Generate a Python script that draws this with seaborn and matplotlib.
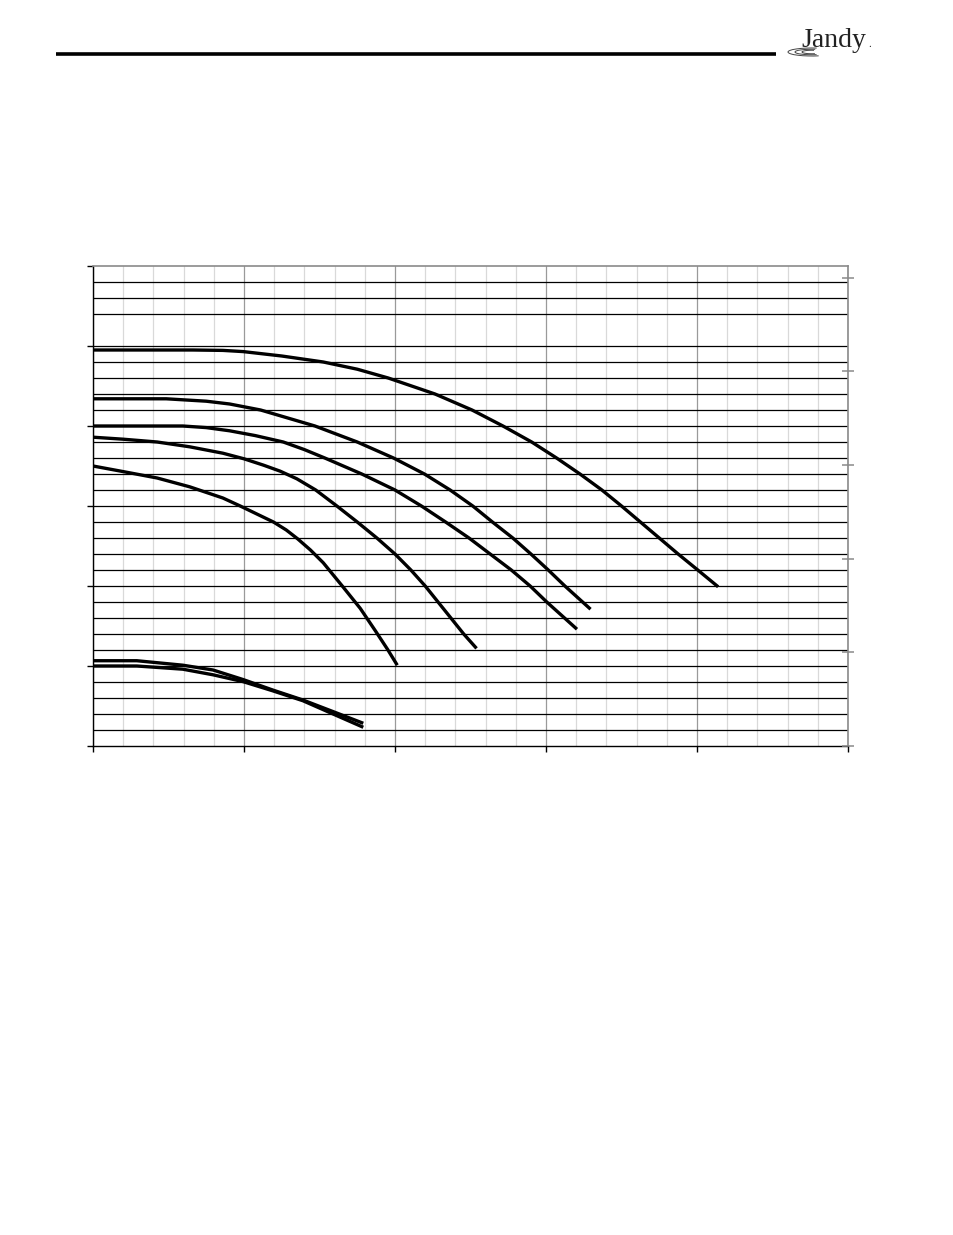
import numpy as np
import pandas as pd
import seaborn as sns
import matplotlib.pyplot as plt
from matplotlib.patches import Arc
from matplotlib.ticker import MultipleLocator, NullFormatter

# pump performance curves (flow, head)
c1_x = [0, 8.0, 13.2, 17.2, 19.9, 25.0, 30.5, 35.0, 39.1, 45.3, 50.2, 54.3, 58.1,
        61.4, 64.5, 67.4, 70.0, 72.5, 75.0, 77.5, 80.1, 82.8]
c1_y = [49.5, 49.5, 49.5, 49.45, 49.3, 48.75, 48.0, 47.1, 46.0, 44.0, 42.0, 40.0, 38.0,
        36.0, 34.0, 32.0, 30.0, 28.0, 26.0, 24.0, 22.0, 19.9]

c2_x = [0, 9.7, 15.0, 18.1, 22.2, 29.4, 35.0, 39.8, 43.9, 47.3, 50.3, 52.9, 55.6,
        58.0, 60.3, 62.5, 65.9]
c2_y = [43.4, 43.4, 43.1, 42.75, 42.0, 40.0, 38.0, 36.0, 34.0, 32.0, 30.0, 28.0, 26.0,
        24.0, 22.0, 20.0, 17.1]

c3_x = [0, 11.9, 15.0, 18.1, 21.5, 25.2, 28.0, 30.7, 35.6, 40.0, 43.5, 46.7, 49.8,
        52.6, 55.4, 57.9, 60.1, 64.1]
c3_y = [40.0, 40.0, 39.8, 39.4, 38.8, 38.0, 37.05, 36.0, 34.0, 32.0, 30.0, 28.0, 26.0,
        24.0, 22.0, 20.0, 18.0, 14.6]

c4_x = [0, 4.0, 8.5, 12.8, 17.2, 20.0, 22.6, 24.8, 27.0, 29.5, 32.3, 35.0, 37.6,
        40.0, 42.1, 44.0, 45.7, 47.4, 49.1, 50.8]
c4_y = [38.6, 38.35, 38.0, 37.4, 36.6, 35.9, 35.1, 34.35, 33.4, 32.0, 30.0, 28.0, 26.0,
        24.0, 22.0, 20.0, 18.0, 16.0, 14.0, 12.2]

c5_x = [0, 4.0, 8.5, 12.8, 17.2, 19.5, 21.7, 23.9, 25.6, 27.1, 28.8, 30.5, 31.8,
        33.1, 35.4, 37.4, 39.0, 40.3]
c5_y = [35.0, 34.3, 33.5, 32.4, 31.0, 30.0, 29.0, 28.0, 27.0, 25.9, 24.5, 22.9, 21.4,
        19.9, 17.2, 14.4, 12.1, 10.1]

c6_x = [0, 5.8, 11.9, 15.9, 19.9, 23.8, 27.8, 31.8, 35.8]
c6_y = [10.66, 10.66, 10.1, 9.5, 8.3, 7.0, 5.75, 4.3, 2.84]

c7_x = [0, 5.8, 11.9, 15.9, 19.9, 23.8, 27.8, 31.8, 35.8]
c7_y = [10.0, 10.0, 9.6, 8.9, 8.04, 6.9, 5.66, 4.0, 2.34]

curves = [(c1_x, c1_y), (c2_x, c2_y), (c3_x, c3_y), (c4_x, c4_y),
          (c5_x, c5_y), (c6_x, c6_y), (c7_x, c7_y)]

# horizontal rules of the chart paper (one is missing in the original)
h_lines = [v for v in range(2, 60, 2) if v != 52]

sns.set_style('white')
plt.rcParams['font.family'] = ['DejaVu Sans']

fig = plt.figure(figsize=(9.54, 12.35), dpi=100)
ax = fig.add_axes([93 / 954, 1 - 746 / 1235, 755 / 954, 480 / 1235])

ax.set_xlim(0, 100)
ax.set_ylim(0, 60)

# vertical grid
ax.xaxis.set_major_locator(MultipleLocator(20))
ax.xaxis.set_minor_locator(MultipleLocator(4))
ax.grid(which='minor', axis='x', color='#d9d9d9', lw=0.9)
ax.grid(which='major', axis='x', color='#9a9a9a', lw=0.9)
ax.set_axisbelow(True)

for v in h_lines:
    ax.axhline(v, color='black', lw=0.9, zorder=1)

for cx, cy in curves:
    sns.lineplot(x=cx, y=cy, ax=ax, color='black', lw=2.4, sort=False,
                 estimator=None, zorder=3, solid_capstyle='butt',
                 solid_joinstyle='round')

ax.yaxis.set_major_locator(MultipleLocator(10))
ax.xaxis.set_major_formatter(NullFormatter())
ax.yaxis.set_major_formatter(NullFormatter())
ax.tick_params(axis='both', which='major', direction='out', length=4, width=1,
               color='black', left=True, bottom=True)
ax.tick_params(axis='x', which='minor', length=0)
ax.set_xlabel('')
ax.set_ylabel('')

for side in ['left', 'bottom']:
    ax.spines[side].set_color('black')
    ax.spines[side].set_linewidth(1.0)
for side in ['top', 'right']:
    ax.spines[side].set_color('#8a8a8a')
    ax.spines[side].set_linewidth(1.2)

# secondary scale on the right
ax2 = ax.twinx()
ax2.set_ylim(0, 60 * 2.989)
ax2.yaxis.set_major_locator(MultipleLocator(35))
ax2.yaxis.set_major_formatter(NullFormatter())
ax2.tick_params(axis='y', direction='inout', length=8, width=1.1, color='#8a8a8a')
for side in ['top', 'right', 'left', 'bottom']:
    ax2.spines[side].set_visible(False)

# page header: rule and logo
page = fig.add_axes([0, 0, 1, 1], zorder=-1)
page.set_xlim(0, 954)
page.set_ylim(1235, 0)
page.axis('off')
page.plot([56, 776], [54, 54], color='black', lw=2.6, solid_capstyle='butt')
page.text(834, 47, 'Jandy', family='Liberation Serif', fontsize=20,
          color='#222222', ha='center', va='baseline')
page.text(870, 47, '.', family='Liberation Serif', fontsize=8,
          color='#222222', ha='center', va='baseline')
for w, h in [(48, 8), (34, 5.5), (20, 3.5)]:
    page.add_patch(Arc((812, 52), w, h, theta1=30, theta2=320,
                       color='#444444', lw=0.7))

fig.savefig('out.png', dpi=100)
